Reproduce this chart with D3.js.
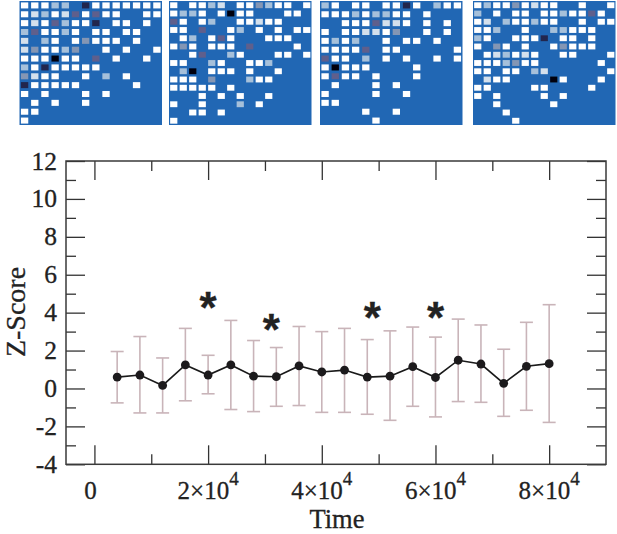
<!DOCTYPE html>
<html><head><meta charset="utf-8">
<script src="https://cdnjs.cloudflare.com/ajax/libs/d3/7.8.5/d3.min.js"></script>
<style>html,body{margin:0;padding:0;background:#fff}svg{display:block}text{font-family:"Liberation Serif",serif;fill:#222;stroke:#222;stroke-width:.3}</style>
</head><body><svg id="c" width="617" height="534"></svg>
<script>
const times=[4000,8000,12000,16000,20000,24000,28000,32000,36000,40000,44000,48000,52000,56000,60000,64000,68000,72000,76000,80000];
const means=[0.6,0.71,0.16,1.24,0.71,1.24,0.65,0.62,1.19,0.87,0.97,0.6,0.65,1.15,0.58,1.49,1.29,0.27,1.17,1.31];
const uppers=[1.95,2.74,1.61,3.17,1.75,3.59,2.53,2.16,3.27,3.0,3.17,2.58,3.04,3.24,2.71,3.66,3.35,2.07,3.49,4.42];
const lowers=[-0.76,-1.29,-1.29,-0.65,-0.28,-1.11,-1.22,-0.94,-0.9,-1.26,-1.26,-1.36,-1.68,-0.94,-1.5,-0.69,-0.73,-1.47,-1.15,-1.79];
const starTimes=[20000,31100,48900,60000];
const starValues=[4.62,3.47,4.09,4.09];
const yMajor=[-4,-2,0,2,4,6,8,10,12];
const yMinor=[-3,-1,1,3,5,7,9,11];
const xMajor=[0,20000,40000,60000,80000];
const xMinor=[10000,30000,50000,70000];
const matrixA=["wwwaa.dwwwwwww","wlawlcwcww..ww","wlwcawwd.ww.w.","acwwaw.ww.ww..","l.aw.wbwww.w..","lbwwab..w.w..w","wwwkww.c.w..w.","awdwwwww......","blww..w.a.w...","dwwwww.....w..","w.w...w.w.....",".w.w..w.......","ww............","w............."];
const matrixB=["w.wwal.wwbaww.w","waaw.wkww...ww.","cw.wa..wwlww...","ww.c..wa.w.w.ww",".wa.wcw...www..","wbw.www.c....w.","..wc..aw...ww.w","ww..aw..wwa....",".ak.www.w..w...","www.b...aww....","wwwww.w........","...w.w.w..w....","w..w...a.w.....","..ww.w.........","w.............."];
const matrixC=["aw.ww.wwdw.aww","wwwawaaww.w...","..wwwcllw.w.w.","w.wwllwb..w.w.","wawa..w.ww.w..","wwwwc.ww.....w","cww.a.w.w..w.w","wkwww....w....","wcww.w...w....",".w...w.w......","w....w..w.....","ww............","....w..w......",".....w........"];
const matrixD=["wawwbwlww..w..w","a.w.ww.wwawwcw.","wl.awwaww..w.ww","wwa..w..aawww..","aw..wwwd.ww.w..","w.bw.w..wbwww..",".wlawlw..ww...w","wwwabww......w.","ww.ww.al......w",".lww....kw...w.","ww....ww....w..","w.w....w.w.....","..w.....w......","...w...........","....w.........."];
const shadeKeys=["w","l","a","b","c","d","k"];
const shadeColors=["#ffffff","#d4e0ec","#a6c0da","#8496b4","#5f5f8c","#22264e","#06060f"];
const matrices=[matrixA,matrixB,matrixC,matrixD];
const panelLefts=[19.5,169,320,473];

const svg=d3.select("#c");
svg.append("defs").append("filter").attr("id","soft").append("feGaussianBlur").attr("stdDeviation",0.45);
const shade=d3.scaleOrdinal(shadeKeys,shadeColors);
matrices.forEach((m,i)=>{
  const w=142.5,h=124,n=m.length;
  const gx=d3.scaleBand().domain(d3.range(n)).range([0,w]).paddingInner(n===14?0.28:0.24).paddingOuter(n===14?0.14:0.12);
  const gy=d3.scaleBand().domain(d3.range(n)).range([0,h]).paddingInner(n===14?0.32:0.29).paddingOuter(0.16);
  const g=svg.append("g").attr("transform",`translate(${panelLefts[i]},1)`);
  g.append("rect").attr("width",w).attr("height",h).attr("fill","#2167b4");
  const cells=[];
  m.forEach((row,r)=>row.split("").forEach((ch,c)=>{if(ch!==".")cells.push({r,c,ch});}));
  g.append("g").attr("filter","url(#soft)").selectAll("rect").data(cells).join("rect")
   .attr("x",d=>gx(d.c)).attr("y",d=>gy(d.r)).attr("width",gx.bandwidth()).attr("height",gy.bandwidth())
   .attr("fill",d=>shade(d.ch));
});

const L=66,R=606,T=161,B=464.3;
const x=d3.scaleLinear().domain([-5000,90000]).range([L,R]);
const y=d3.scaleLinear().domain([-4,12]).range([B,T]);
const ax="#333";
function style(g){g.select(".domain").remove();g.selectAll(".tick line").attr("stroke",ax).attr("stroke-width",1.3);g.selectAll("text").remove();}
svg.append("g").attr("transform",`translate(${L},0)`).call(d3.axisLeft(y).tickValues(yMajor).tickSize(-19)).call(style);
svg.append("g").attr("transform",`translate(${L},0)`).call(d3.axisLeft(y).tickValues(yMinor).tickSize(-10)).call(style);
svg.append("g").attr("transform",`translate(${R},0)`).call(d3.axisRight(y).tickValues(yMajor).tickSize(-19)).call(style);
svg.append("g").attr("transform",`translate(${R},0)`).call(d3.axisRight(y).tickValues(yMinor).tickSize(-10)).call(style);
svg.append("g").attr("transform",`translate(0,${B})`).call(d3.axisBottom(x).tickValues(xMajor).tickSize(-19)).call(style);
svg.append("g").attr("transform",`translate(0,${B})`).call(d3.axisBottom(x).tickValues(xMinor).tickSize(-10)).call(style);
svg.append("g").attr("transform",`translate(0,${T})`).call(d3.axisTop(x).tickValues(xMajor).tickSize(-19)).call(style);
svg.append("g").attr("transform",`translate(0,${T})`).call(d3.axisTop(x).tickValues(xMinor).tickSize(-10)).call(style);
svg.append("rect").attr("x",L).attr("y",T).attr("width",R-L).attr("height",B-T).attr("fill","none").attr("stroke","#3a3a3a").attr("stroke-width",1.5);

svg.append("g").selectAll("text").data(yMajor).join("text")
  .attr("x",57).attr("y",d=>y(d)+8.5).attr("text-anchor","end").attr("font-size",25.5).text(d=>d);
const xl=svg.append("g").selectAll("text").data(xMajor).join("text")
  .attr("y",499).attr("font-size",25).attr("text-anchor","middle")
  .attr("x",d=>d===0?x(d)-4:x(d));
xl.each(function(d){
  const t=d3.select(this);
  if(d===0){t.text("0");return;}
  t.append("tspan").text((d/10000)+"×10");
  t.append("tspan").attr("dy",-14).attr("font-size",19).text("4");
});
svg.append("text").attr("x",337).attr("y",528.2).attr("text-anchor","middle").attr("font-size",26.5).text("Time");
svg.append("text").attr("transform","translate(25,312) rotate(-90)").attr("text-anchor","middle").attr("font-size",28).text("Z-Score");

const bars=svg.append("g").attr("stroke","#c9b4b9").attr("stroke-width",1.6);
times.forEach((t,i)=>{
  bars.append("line").attr("x1",x(t)).attr("x2",x(t)).attr("y1",y(uppers[i])).attr("y2",y(lowers[i]));
  [uppers[i],lowers[i]].forEach(v=>bars.append("line").attr("x1",x(t)-6.5).attr("x2",x(t)+6.5).attr("y1",y(v)).attr("y2",y(v)));
});
const line=d3.line().x(d=>x(d[0])).y(d=>y(d[1]));
svg.append("path").attr("d",line(times.map((t,i)=>[t,means[i]]))).attr("fill","none").attr("stroke","#1a1a1a").attr("stroke-width",1.6);
svg.append("g").selectAll("circle").data(times).join("circle").attr("cx",d=>x(d)).attr("cy",(d,i)=>y(means[i])).attr("r",4.4).attr("fill","#1c1a1c");
svg.append("g").selectAll("text").data(starTimes).join("text")
  .attr("x",d=>x(d)).attr("y",(d,i)=>y(starValues[i])+22).attr("text-anchor","middle").attr("font-size",44).attr("font-weight","bold").style("font-family","Liberation Sans").text("*");
</script></body></html>
